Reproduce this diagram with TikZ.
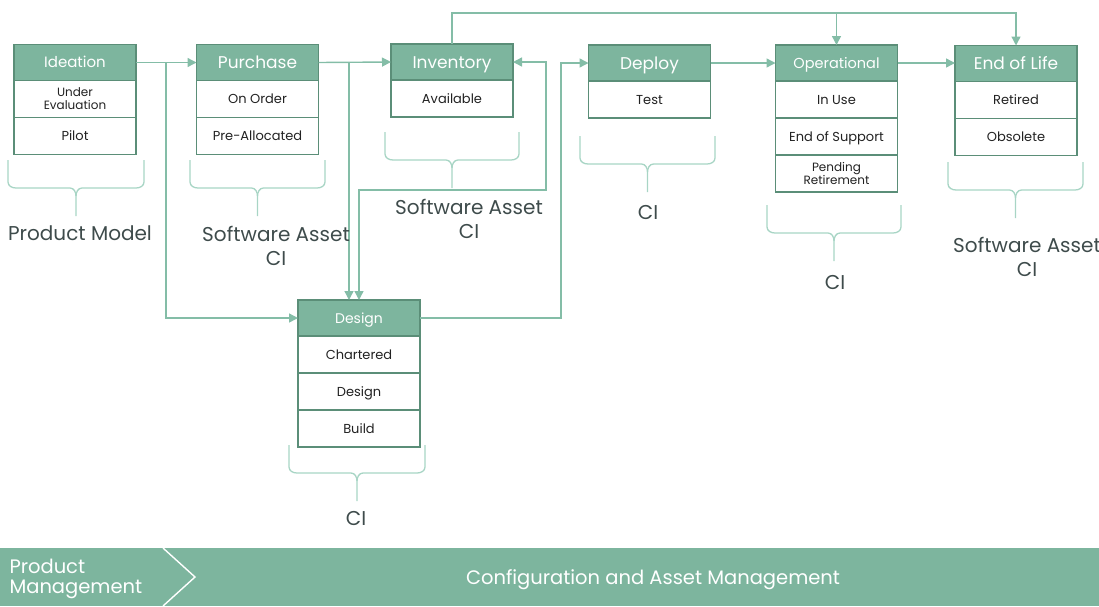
\documentclass[tikz,border=0pt]{standalone}
\usepackage{fontspec}
\setmainfont{Poppins}
\usetikzlibrary{arrows.meta,calc,positioning}
\definecolor{Sage}{HTML}{7DB59E}
\definecolor{SageDark}{HTML}{5B8E78}
\definecolor{SageLine}{HTML}{84BDA7}
\definecolor{SageBrace}{HTML}{A8D5C5}
\definecolor{Slate}{HTML}{3E4B4B}
\definecolor{Ink}{HTML}{222222}
\newcommand\lowbrace[3]{%
  \pgfmathsetmacro\bmid{(#1+#2)/2}
  \draw[curly] (#1,#3) -- (#1,#3-22) to[out=-90,in=180] (#1+8,#3-28)
    -- (\bmid-6,#3-28) to[out=0,in=90] (\bmid,#3-36) -- (\bmid,#3-56);
  \draw[curly] (#2,#3) -- (#2,#3-22) to[out=-90,in=0] (#2-8,#3-28)
    -- (\bmid+6,#3-28) to[out=180,in=90] (\bmid,#3-36);}

\begin{document}
\begin{tikzpicture}[x=1pt,y=1pt,
        head/.style={draw=SageDark,fill=Sage,text=white,line width=1.6pt,
                     minimum width=122pt,minimum height=36pt,inner sep=0pt,outer sep=0pt,
                     text height=12pt,text depth=0pt,font=\fontsize{17}{18}\selectfont},
        lowhead/.style={head,text height=10.4pt,font=\fontsize{15}{18}\selectfont},
        cell/.style={draw=SageDark,fill=white,text=Ink,line width=1.6pt,align=center,
                     minimum width=122pt,minimum height=37pt,inner sep=0pt,outer sep=0pt,
                     text height=9.2pt,text depth=0pt,font=\fontsize{13}{13}\selectfont},
        small/.style={text height={},text depth={},font=\fontsize{12}{13}\selectfont},
        flow/.style={-{Triangle[length=9pt,width=9pt]},SageLine,line width=1.4pt},
        both/.style={{Triangle[length=9pt,width=9pt]}-{Triangle[length=9pt,width=9pt]},
                     SageLine,line width=1.4pt},
        curly/.style={SageBrace,line width=1.3pt},
        caption/.style={text=Slate,align=center,font=\fontsize{20}{24}\selectfont},
        bartext/.style={text=white,font=\fontsize{19.5}{20}\selectfont}]
      \useasboundingbox (0,0) rectangle (1099,-606);
      \node[lowhead] (ideation) at (75,-62.5) {Ideation};
      \node[cell,small,below=0pt of ideation] (ideation1) {Under\\Evaluation};
      \node[cell,below=0pt of ideation1] (ideation2) {Pilot};
      \node[head] (purchase) at (257.5,-62.5) {Purchase};
      \node[cell,below=0pt of purchase] (purchase1) {On Order};
      \node[cell,below=0pt of purchase1] (purchase2) {Pre-Allocated};
      \node[head] (inventory) at (452,-62) {Inventory};
      \node[cell,below=0pt of inventory] (inventory1) {Available};
      \node[head] (deploy) at (649.5,-63) {Deploy};
      \node[cell,below=0pt of deploy] (deploy1) {Test};
      \node[lowhead,font=\fontsize{14.5}{18}\selectfont] (operational) at (836.5,-63) {Operational};
      \node[cell,below=0pt of operational] (operational1) {In Use};
      \node[cell,below=0pt of operational1] (operational2) {End of Support};
      \node[cell,small,below=0pt of operational2] (operational3) {Pending\\Retirement};
      \node[head] (endoflife) at (1016,-63.5) {End of Life};
      \node[cell,below=0pt of endoflife] (endoflife1) {Retired};
      \node[cell,below=0pt of endoflife1] (endoflife2) {Obsolete};
      \node[lowhead,text height=10pt,font=\fontsize{14}{18}\selectfont] (design) at (359,-318) {Design};
      \node[cell,below=0pt of design] (design1) {Chartered};
      \node[cell,below=0pt of design1] (design2) {Design};
      \node[cell,below=0pt of design2] (design3) {Build};

      \draw[flow] (ideation.east) -- (purchase.west);
      \draw[flow] (ideation.east) -- ++(30,0) |- (design.west);
      \draw[flow] (purchase.east) -- (inventory.west);
      \draw[flow] (purchase.east) -| ([xshift=-10pt]design.north);
      \draw[both] (design.north) |- ++(187,110) |- (inventory.east);
      \draw[flow] (inventory.north) -- ++(0,31) -| (operational.north);
      \draw[flow] (inventory.north) ++(0,31) -| (endoflife.north);
      \draw[flow] (design.east) -- ++(141,0) |- (deploy.west);
      \draw[flow] (deploy.east) -- (operational.west);
      \draw[flow] (operational.east) -- (operational.east -| endoflife.west);

      \lowbrace{8}{144}{-160}
      \lowbrace{190}{325}{-160}
      \lowbrace{385}{519}{-132}
      \lowbrace{580}{715}{-136}
      \lowbrace{767}{901}{-205}
      \lowbrace{948}{1083}{-162}
      \lowbrace{289}{425}{-445}
      \node[caption] (modelnote) at (80,-233) {Product Model};
      \node[caption] (purchasenote) at (276,-246) {Software Asset\\CI};
      \node[caption] (inventorynote) at (469,-219) {Software Asset\\CI};
      \node[caption] (deploynote) at (648,-212) {CI};
      \node[caption] (operationalnote) at (835,-282) {CI};
      \node[caption] (eolnote) at (1027,-257) {Software Asset\\CI};
      \node[caption] (designnote) at (356,-518) {CI};

      \fill[Sage] (0,-548) rectangle (1099,-606);
      \draw[white,line width=1.4pt] (163,-548) -- (195,-577) -- (163,-606);
      \node[bartext,anchor=west,align=left] (prodmgmt) at (6,-579) {Product\\Management};
      \node[bartext] (confmgmt) at (653,-580) {Configuration and Asset Management};
    \end{tikzpicture}
\end{document}
